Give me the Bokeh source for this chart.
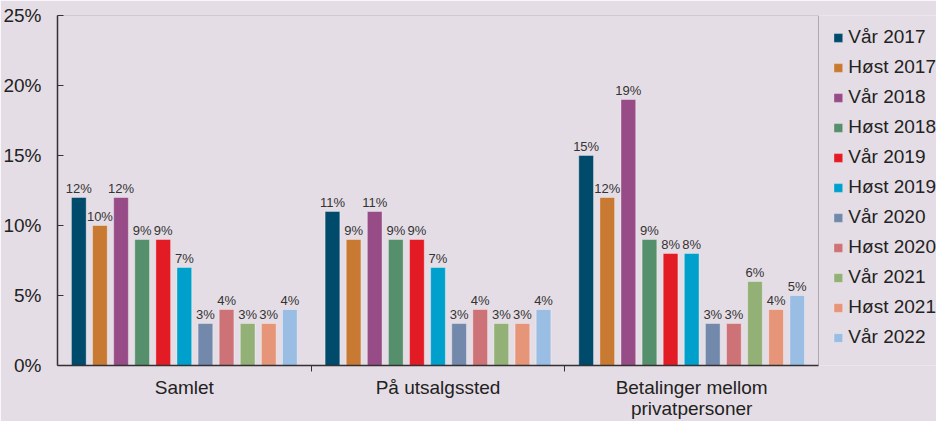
from bokeh.plotting import figure
from bokeh.models import (ColumnDataSource, FixedTicker, PrintfTickFormatter, Legend, LegendItem,
                          Range1d, BoxAnnotation)
from bokeh.core.properties import value
from bokeh.embed import file_html
from bokeh.resources import INLINE

categories = ["Samlet", "På utsalgssted", "Betalinger mellom\nprivatpersoner"]
series = ["Vår 2017", "Høst 2017", "Vår 2018", "Høst 2018", "Vår 2019", "Høst 2019",
          "Vår 2020", "Høst 2020", "Vår 2021", "Høst 2021", "Vår 2022"]
samlet = [12, 10, 12, 9, 9, 7, 3, 4, 3, 3, 4]
utsalgssted = [11, 9, 11, 9, 9, 7, 3, 4, 3, 3, 4]
privatpersoner = [15, 12, 19, 9, 8, 8, 3, 3, 6, 4, 5]
colors = ["#004A6B", "#C87A33", "#984C87", "#558F6C", "#E31B25", "#00A0CC",
          "#7389AC", "#CD7276", "#93B176", "#E69578", "#9ABDE3"]
y_ticks = [0, 5, 10, 15, 20, 25]

BG = "#E5DDE5"
FONT = "Liberation Sans"
INK = "#222222"
LINE = "#333333"

W, H = 936, 421
LEFT, TOP, PLOT_RIGHT = 57, 15, 818
ncat = len(categories)
# the frame spans the legend area too; the data box ends at PLOT_RIGHT
x_end = ncat * (W - LEFT) / (PLOT_RIGHT - LEFT)

p = figure(width=W, height=H, output_backend="svg", toolbar_location=None,
           x_range=Range1d(0, x_end), y_range=Range1d(0, y_ticks[-1]),
           min_border_left=LEFT, min_border_right=0, min_border_top=TOP, min_border_bottom=10)
p.background_fill_color = BG
p.border_fill_color = BG
p.outline_line_color = None
p.xgrid.visible = False
p.ygrid.visible = False

# plot box (top and right borders)
p.add_layout(BoxAnnotation(left=0, right=ncat, bottom=0, top=y_ticks[-1],
                           fill_alpha=0, line_color=LINE, line_width=1))

values = [samlet, utsalgssted, privatpersoner]
step = 0.0832
bw = 0.058
items = []
for j, name in enumerate(series):
    xs = [g + 0.5 + (j - 5) * step for g in range(ncat)]
    ys = [values[g][j] for g in range(ncat)]
    src = ColumnDataSource(dict(x=xs, y=ys, lbl=[f"{v}%" for v in ys]))
    r = p.vbar(x="x", top="y", width=bw, source=src, fill_color=colors[j],
               line_color="white", line_alpha=0.35, line_width=1)
    p.text(x="x", y="y", text="lbl", source=src, text_align="center",
           text_baseline="alphabetic", y_offset=-9, text_font_size="13px",
           text_font=value(FONT), text_color="#333333")
    items.append(LegendItem(label=name, renderers=[r]))

legend = Legend(items=items, location="top_right", background_fill_alpha=0,
                border_line_color=None, padding=0, margin=0, spacing=8, ncols=1,
                glyph_width=11, glyph_height=11, label_height=20, label_standoff=5,
                title=" ", title_text_font_size="8px", title_standoff=2,
                label_text_font_size="19px", label_text_font=FONT, label_text_color=INK)
p.add_layout(legend, "center")

# y axis
p.yaxis.ticker = FixedTicker(ticks=y_ticks)
p.yaxis.formatter = PrintfTickFormatter(format="%d%%")
p.yaxis.major_tick_in = 6
p.yaxis.major_tick_out = 0
p.yaxis.minor_tick_line_color = None
p.yaxis.axis_line_color = LINE
p.yaxis.axis_line_width = 1.5
p.yaxis.major_tick_line_color = LINE
p.yaxis.major_label_text_font_size = "19px"
p.yaxis.major_label_text_font = FONT
p.yaxis.major_label_text_color = INK
p.yaxis.major_label_standoff = 16

# x axis
centers = [g + 0.5 for g in range(ncat)]
p.xaxis.bounds = (0, ncat)
p.xaxis.ticker = FixedTicker(ticks=centers, minor_ticks=list(range(1, ncat)))
p.xaxis.major_label_overrides = {c: lab for c, lab in zip(centers, categories)}
p.xaxis.major_tick_line_color = None
p.xaxis.major_tick_in = 0
p.xaxis.major_tick_out = 0
p.xaxis.minor_tick_in = 0
p.xaxis.minor_tick_out = 6
p.xaxis.minor_tick_line_color = LINE
p.xaxis.axis_line_color = LINE
p.xaxis.axis_line_width = 1.5
p.xaxis.major_label_text_font_size = "19px"
p.xaxis.major_label_text_font = FONT
p.xaxis.major_label_text_color = INK
p.xaxis.major_label_text_line_height = 1.0
p.xaxis.major_label_standoff = 5

open("out.html", "w").write(file_html(p, INLINE))
